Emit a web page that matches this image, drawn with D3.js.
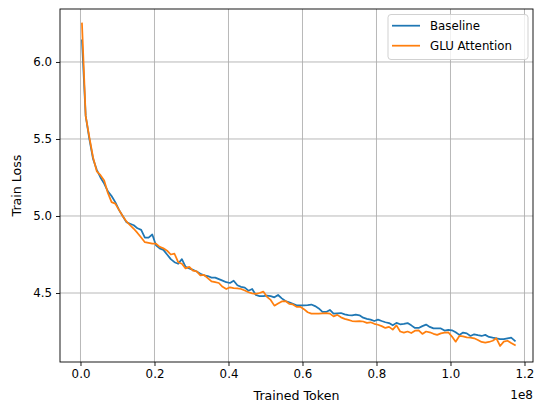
<!DOCTYPE html>
<html><head><meta charset="utf-8">
<script src="https://cdn.jsdelivr.net/npm/d3@7"></script>
<style>body{margin:0;background:#fff}svg{display:block;font-family:"DejaVu Sans",sans-serif}</style>
</head><body><svg id="c" width="534" height="402"></svg>
<script>
// x: trained tokens (in units of 1e8), evaluated every 0.01e8 starting at 0.004e8
const tokenStart = 0.004, tokenStep = 0.01;
const baseline = [6.14,5.65,5.50,5.37,5.30,5.25,5.21,5.16,5.13,5.09,
5.04,5.00,4.96,4.95,4.94,4.92,4.91,4.86,4.86,4.88,
4.81,4.79,4.78,4.75,4.72,4.70,4.69,4.72,4.67,4.66,
4.65,4.64,4.625,4.615,4.61,4.60,4.60,4.59,4.58,4.57,
4.565,4.58,4.55,4.54,4.535,4.515,4.526,4.487,4.48,4.48,
4.483,4.48,4.472,4.487,4.465,4.448,4.44,4.43,4.42,4.42,
4.42,4.422,4.425,4.415,4.40,4.378,4.377,4.39,4.366,4.368,
4.37,4.361,4.357,4.355,4.36,4.355,4.34,4.332,4.327,4.318,
4.327,4.318,4.31,4.305,4.29,4.306,4.297,4.30,4.305,4.29,
4.273,4.273,4.285,4.295,4.28,4.27,4.27,4.27,4.256,4.26,
4.258,4.245,4.228,4.243,4.238,4.221,4.232,4.226,4.221,4.228,
4.215,4.21,4.206,4.20,4.20,4.205,4.21,4.19];
const gluAttention = [6.25,5.65,5.51,5.38,5.29,5.265,5.23,5.15,5.09,5.08,
5.04,5.00,4.965,4.94,4.917,4.89,4.86,4.83,4.825,4.82,
4.82,4.80,4.79,4.775,4.75,4.755,4.70,4.69,4.66,4.67,
4.645,4.64,4.615,4.617,4.597,4.575,4.57,4.565,4.54,4.526,
4.537,4.532,4.53,4.526,4.516,4.505,4.498,4.494,4.50,4.509,
4.475,4.455,4.418,4.432,4.445,4.448,4.43,4.426,4.41,4.41,
4.395,4.375,4.366,4.366,4.366,4.368,4.37,4.366,4.348,4.358,
4.342,4.332,4.325,4.318,4.316,4.318,4.315,4.306,4.31,4.30,
4.294,4.285,4.273,4.28,4.262,4.29,4.25,4.243,4.25,4.24,
4.255,4.258,4.234,4.25,4.245,4.235,4.228,4.238,4.243,4.245,
4.217,4.184,4.221,4.218,4.212,4.21,4.206,4.195,4.182,4.178,
4.182,4.19,4.206,4.156,4.184,4.19,4.175,4.162];
const xTicks = [0.0,0.2,0.4,0.6,0.8,1.0,1.2];
const yTicks = [4.5,5.0,5.5,6.0];
const seriesNames = ["Baseline","GLU Attention"];
const colors = ["#1f77b4","#ff7f0e"];

const tokens = baseline.map((_, i) => tokenStart + i * tokenStep);
const series = [baseline, gluAttention];

const svg = d3.select("#c");
const L = 60, R = 533, T = 9, B = 362;
const x = d3.scaleLinear().domain([-0.0554, 1.2230]).range([L, R]);
const y = d3.scaleLinear().domain([4.052, 6.344]).range([B, T]);

const defs = svg.append("defs");
defs.append("clipPath").attr("id","clip").append("rect").attr("x",L).attr("y",T).attr("width",R-L).attr("height",B-T);

// grid
const g = svg.append("g");
g.selectAll(".gx").data(xTicks).join("line")
  .attr("x1",d=>x(d)).attr("x2",d=>x(d)).attr("y1",T).attr("y2",B)
  .attr("stroke","#b0b0b0").attr("stroke-width",0.9);
g.selectAll(".gy").data(yTicks).join("line")
  .attr("y1",d=>y(d)).attr("y2",d=>y(d)).attr("x1",L).attr("x2",R)
  .attr("stroke","#b0b0b0").attr("stroke-width",0.9);

// lines
const line = d3.line().x((d,i)=>x(tokens[i])).y(d=>y(d));
svg.append("g").attr("clip-path","url(#clip)").selectAll("path").data(series).join("path")
  .attr("d",d=>line(d)).attr("fill","none")
  .attr("stroke",(d,i)=>colors[i]).attr("stroke-width",1.75)
  .attr("stroke-linejoin","round").attr("stroke-linecap","square");

// axes
const xAxis = d3.axisBottom(x).tickValues(xTicks).tickFormat(d3.format(".1f")).tickSize(4).tickPadding(4);
const yAxis = d3.axisLeft(y).tickValues(yTicks).tickFormat(d3.format(".1f")).tickSize(4).tickPadding(4);
const gx = svg.append("g").attr("transform",`translate(0,${B})`).call(xAxis);
const gy = svg.append("g").attr("transform",`translate(${L},0)`).call(yAxis);
[gx,gy].forEach(a=>{
  a.select(".domain").remove();
  a.selectAll("text").attr("font-size",11.8).attr("fill","#000").attr("font-family","DejaVu Sans");
  a.selectAll("line").attr("stroke","#000").attr("stroke-width",0.9);
});
// spines
svg.append("rect").attr("x",L).attr("y",T).attr("width",R-L).attr("height",B-T)
  .attr("fill","none").attr("stroke","#000").attr("stroke-width",0.9);

// labels
svg.append("text").attr("x",(L+R)/2).attr("y",400).attr("text-anchor","middle")
  .attr("font-size",12.6).text("Trained Token");
svg.append("text").attr("transform",`translate(21,${(T+B)/2}) rotate(-90)`).attr("text-anchor","middle")
  .attr("font-size",12.6).text("Train Loss");
svg.append("text").attr("x",533).attr("y",399).attr("text-anchor","end")
  .attr("font-size",12).text("1e8");

// legend
const lg = svg.append("g");
lg.append("rect").attr("x",388).attr("y",14.5).attr("width",140).attr("height",45).attr("rx",3)
  .attr("fill","#fff").attr("fill-opacity",0.8).attr("stroke","#cccccc").attr("stroke-width",0.9);
seriesNames.forEach((n,i)=>{
  const yy = 25.7 + i*20;
  lg.append("line").attr("x1",392).attr("x2",420).attr("y1",yy).attr("y2",yy)
    .attr("stroke",colors[i]).attr("stroke-width",1.75);
  lg.append("text").attr("x",430).attr("y",yy+4.3).attr("font-size",11.8).text(n);
});
</script></body></html>
